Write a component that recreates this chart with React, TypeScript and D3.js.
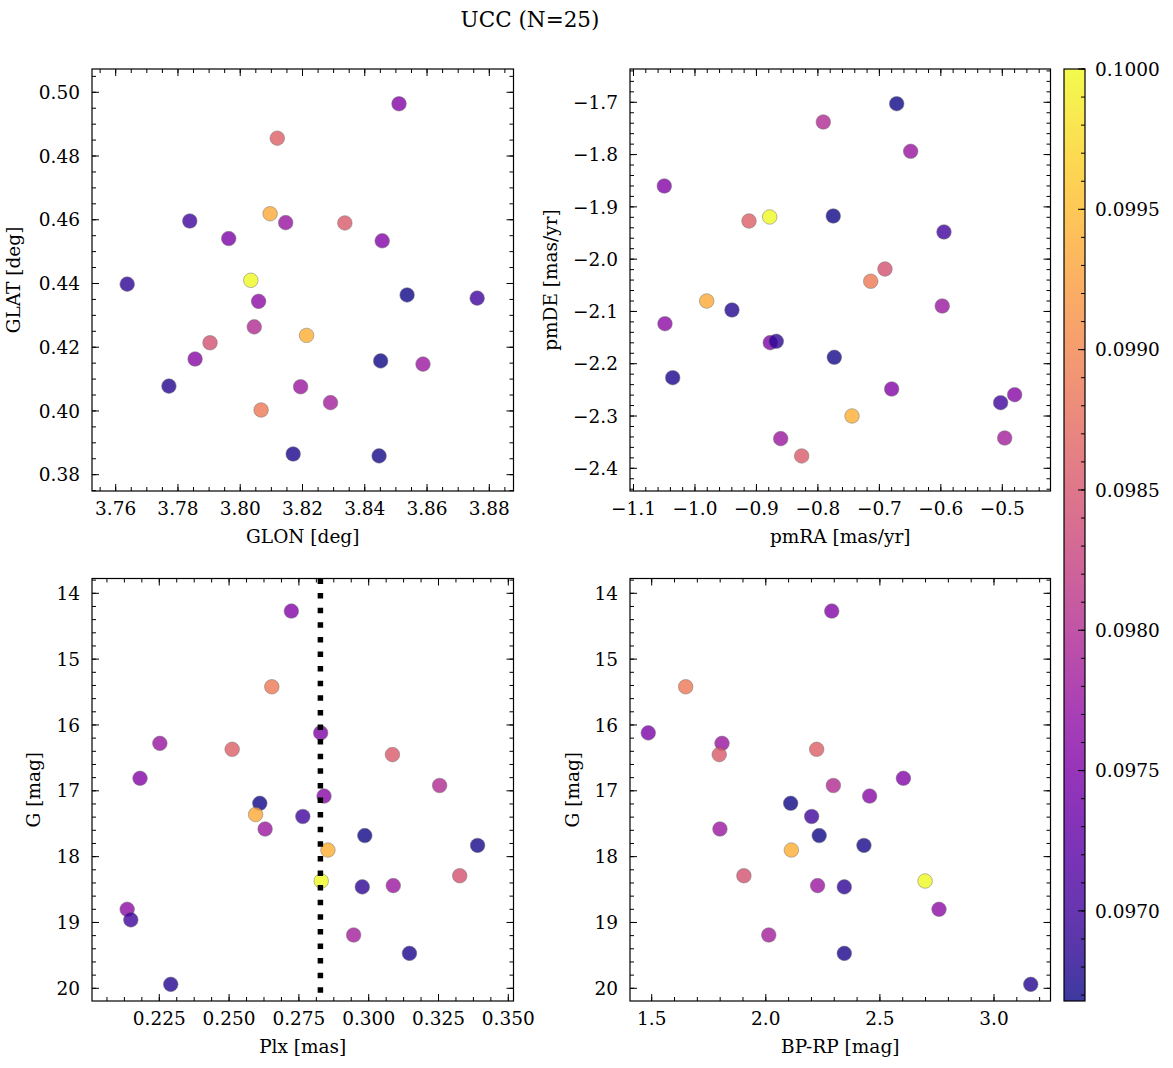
import React, { useEffect, useRef } from 'react';
import * as d3 from 'd3';

// 25 members, same order in every array
const glon = [3.8510, 3.8067, 3.7963, 3.8146, 3.8119, 3.8336, 3.8456, 3.8045, 3.7855, 3.8536, 3.8096, 3.7838, 3.8587, 3.8451, 3.8446, 3.8213, 3.8034, 3.7903, 3.7637, 3.8194, 3.8059, 3.8761, 3.8290, 3.8170, 3.7771];
const glat = [0.4964, 0.4003, 0.4541, 0.4591, 0.4856, 0.4590, 0.4534, 0.4264, 0.4163, 0.4364, 0.4619, 0.4596, 0.4147, 0.4157, 0.3859, 0.4237, 0.4410, 0.4214, 0.4398, 0.4076, 0.4344, 0.4354, 0.4026, 0.3865, 0.4078];
const pmra = [-1.0499, -0.7141, -0.8775, -0.6491, -0.9121, -0.8264, -0.6800, -0.7912, -0.4799, -0.6718, -0.9809, -0.5949, -0.5977, -0.7750, -0.7733, -0.7445, -0.8784, -0.6909, -0.8677, -0.8605, -1.0488, -0.5027, -0.4961, -1.0362, -0.9398];
const pmde = [-1.8601, -2.0423, -2.1597, -1.7937, -1.9270, -2.3764, -2.2483, -1.7377, -2.2592, -1.7027, -2.0800, -1.9480, -2.0896, -1.9174, -2.1877, -2.2999, -1.9193, -2.0188, -2.1571, -2.3433, -2.1234, -2.2745, -2.3420, -2.2267, -2.0972];
const plx = [0.2723, 0.2653, 0.2828, 0.2252, 0.2511, 0.3085, 0.2181, 0.3254, 0.2840, 0.2610, 0.2595, 0.2764, 0.2629, 0.2986, 0.3390, 0.2854, 0.2830, 0.3326, 0.2977, 0.3088, 0.2135, 0.2148, 0.2946, 0.3146, 0.2291];
const gmag = [14.27, 15.42, 16.12, 16.28, 16.37, 16.45, 16.81, 16.92, 17.08, 17.19, 17.36, 17.39, 17.58, 17.68, 17.83, 17.90, 18.37, 18.29, 18.46, 18.44, 18.80, 18.96, 19.19, 19.47, 19.94];
const bprp: (number | null)[] = [2.289, 1.649, 1.485, 1.808, 2.223, 1.796, 2.603, 2.296, 2.455, 2.109, null, 2.201, 1.799, 2.234, 2.430, 2.112, 2.698, 1.904, 2.344, 2.227, 2.759, null, 2.013, 2.344, 3.161];
const probs = [0.09755, 0.09888, 0.09752, 0.09775, 0.09860, 0.09855, 0.09757, 0.09800, 0.09760, 0.09670, 0.09935, 0.09700, 0.09778, 0.09670, 0.09672, 0.09940, 0.10000, 0.09845, 0.09685, 0.09778, 0.09765, 0.09700, 0.09785, 0.09675, 0.09680];

const plxMedian = 0.2827;

// axis ticks
const glonTicks = [3.76, 3.78, 3.80, 3.82, 3.84, 3.86, 3.88];
const glatTicks = [0.38, 0.40, 0.42, 0.44, 0.46, 0.48, 0.50];
const pmraTicks = [-1.1, -1.0, -0.9, -0.8, -0.7, -0.6, -0.5];
const pmdeTicks = [-2.4, -2.3, -2.2, -2.1, -2.0, -1.9, -1.8, -1.7];
const plxTicks = [0.225, 0.250, 0.275, 0.300, 0.325, 0.350];
const gTicks = [14, 15, 16, 17, 18, 19, 20];
const bprpTicks = [1.5, 2.0, 2.5, 3.0];
const cbarTicks = [0.0970, 0.0975, 0.0980, 0.0985, 0.0990, 0.0995, 0.1000];

const FONT = '"DejaVu Serif", serif';
const FS = 18.5;

const minorTicks = (dom: number[], step: number) => {
  const lo = Math.min(dom[0], dom[1]);
  const hi = Math.max(dom[0], dom[1]);
  const out: number[] = [];
  for (let k = Math.ceil(lo / step - 1e-9); k * step <= hi + 1e-12; k++) out.push(k * step);
  return out;
};

const App: React.FC = () => {
  const svgRef = useRef<SVGSVGElement>(null);

  useEffect(() => {
    if (!svgRef.current) return;
    const svg = d3.select(svgRef.current);
    svg.selectAll('*').remove();

    const vmin = 0.096679;
    const vmax = 0.1;
    const color = d3.scaleSequential(d3.interpolatePlasma).domain([vmin, vmax]);

    const panels = [
      {
        xs: glon, ys: glat, box: [92, 69, 513.5, 491],
        xDom: [3.75239, 3.88777], yDom: [0.37488, 0.50731],
        xTicks: glonTicks, yTicks: glatTicks, xMinor: 0.005, yMinor: 0.005,
        xFmt: '.2f', yFmt: '.2f', xLabel: 'GLON [deg]', yLabel: 'GLAT [deg]', yLabelX: 20
      },
      {
        xs: pmra, ys: pmde, box: [630, 69, 1050.5, 491],
        xDom: [-1.10569, -0.42159], yDom: [-2.44341, -1.63632],
        xTicks: pmraTicks, yTicks: pmdeTicks, xMinor: 0.02, yMinor: 0.02,
        xFmt: '.1f', yFmt: '.1f', xLabel: 'pmRA [mas/yr]', yLabel: 'pmDE [mas/yr]', yLabelX: 557
      },
      {
        xs: plx, ys: gmag, box: [92, 578.5, 513.5, 1001],
        xDom: [0.20090, 0.35186], yDom: [20.1929, 13.7752],
        xTicks: plxTicks, yTicks: gTicks, xMinor: 0.00625, yMinor: 0.2,
        xFmt: '.3f', yFmt: 'd', xLabel: 'Plx [mas]', yLabel: 'G [mag]', yLabelX: 39.5
      },
      {
        xs: bprp, ys: gmag, box: [630, 578.5, 1050.5, 1001],
        xDom: [1.40491, 3.24759], yDom: [20.1929, 13.7752],
        xTicks: bprpTicks, yTicks: gTicks, xMinor: 0.1, yMinor: 0.2,
        xFmt: '.1f', yFmt: 'd', xLabel: 'BP-RP [mag]', yLabel: 'G [mag]', yLabelX: 579
      }
    ];

    // Title
    svg.append('text')
      .attr('x', 530)
      .attr('y', 27)
      .attr('text-anchor', 'middle')
      .style('font-family', FONT)
      .style('font-size', '21.5px')
      .style('fill', '#000')
      .text('UCC (N=25)');

    panels.forEach((p, pi) => {
      const [x0, y0, x1, y1] = p.box;
      const x = d3.scaleLinear().domain(p.xDom).range([x0, x1]);
      const y = d3.scaleLinear().domain(p.yDom).range([y1, y0]);
      const g = svg.append('g');

      const clipId = `clip-${pi}`;
      g.append('clipPath').attr('id', clipId)
        .append('rect').attr('x', x0).attr('y', y0).attr('width', x1 - x0).attr('height', y1 - y0);

      // Points
      const idx = d3.range(probs.length).filter(i => p.xs[i] != null && p.ys[i] != null);
      g.append('g').attr('clip-path', `url(#${clipId})`)
        .selectAll('circle')
        .data(idx)
        .enter().append('circle')
        .attr('cx', i => x(p.xs[i] as number))
        .attr('cy', i => y(p.ys[i] as number))
        .attr('r', 7.3)
        .attr('fill', i => color(probs[i]))
        .attr('stroke', '#555')
        .attr('stroke-width', 0.5)
        .attr('opacity', 0.8);

      // Median parallax line
      if (pi === 2) {
        g.append('line')
          .attr('x1', x(plxMedian)).attr('x2', x(plxMedian))
          .attr('y1', y0).attr('y2', y1)
          .attr('stroke', '#000')
          .attr('stroke-width', 5.5)
          .attr('stroke-dasharray', '5.5 9.1');
      }

      // Frame
      g.append('rect')
        .attr('x', x0).attr('y', y0)
        .attr('width', x1 - x0).attr('height', y1 - y0)
        .attr('fill', 'none')
        .attr('stroke', '#000')
        .attr('stroke-width', 1.2);

      const tickG = g.append('g').attr('stroke', '#000').attr('stroke-width', 1);
      const drawX = (vals: number[], len: number) => {
        vals.forEach(v => {
          const px = x(v);
          tickG.append('line').attr('x1', px).attr('x2', px).attr('y1', y1).attr('y2', y1 - len);
          tickG.append('line').attr('x1', px).attr('x2', px).attr('y1', y0).attr('y2', y0 + len);
        });
      };
      const drawY = (vals: number[], len: number) => {
        vals.forEach(v => {
          const py = y(v);
          tickG.append('line').attr('x1', x0).attr('x2', x0 + len).attr('y1', py).attr('y2', py);
          tickG.append('line').attr('x1', x1).attr('x2', x1 - len).attr('y1', py).attr('y2', py);
        });
      };
      drawX(minorTicks(p.xDom, p.xMinor), 4);
      drawY(minorTicks(p.yDom, p.yMinor), 4);
      drawX(p.xTicks, 7);
      drawY(p.yTicks, 7);

      const fx = d3.format(p.xFmt);
      const fy = d3.format(p.yFmt);
      g.append('g').selectAll('text')
        .data(p.xTicks)
        .enter().append('text')
        .attr('x', d => x(d))
        .attr('y', y1 + 24)
        .attr('text-anchor', 'middle')
        .style('font-family', FONT)
        .style('font-size', `${FS}px`)
        .text(d => fx(d));

      g.append('g').selectAll('text')
        .data(p.yTicks)
        .enter().append('text')
        .attr('x', x0 - 12)
        .attr('y', d => y(d))
        .attr('dy', '0.36em')
        .attr('text-anchor', 'end')
        .style('font-family', FONT)
        .style('font-size', `${FS}px`)
        .text(d => fy(d));

      // Axis labels
      g.append('text')
        .attr('x', (x0 + x1) / 2)
        .attr('y', y1 + 52)
        .attr('text-anchor', 'middle')
        .style('font-family', FONT)
        .style('font-size', `${FS}px`)
        .text(p.xLabel);

      g.append('text')
        .attr('transform', `translate(${p.yLabelX},${(y0 + y1) / 2}) rotate(-90)`)
        .attr('text-anchor', 'middle')
        .style('font-family', FONT)
        .style('font-size', `${FS}px`)
        .text(p.yLabel);
    });

    // Colorbar
    const cb = { x0: 1064, x1: 1085, y0: 69, y1: 1001 };
    const cy = d3.scaleLinear().domain([vmin, vmax]).range([cb.y1, cb.y0]);
    const defs = svg.append('defs');
    const grad = defs.append('linearGradient')
      .attr('id', 'cbar-grad')
      .attr('x1', 0).attr('y1', 1).attr('x2', 0).attr('y2', 0);
    d3.range(0, 1.0001, 0.05).forEach(t => {
      grad.append('stop')
        .attr('offset', `${t * 100}%`)
        .attr('stop-color', d3.interpolatePlasma(t));
    });
    svg.append('rect')
      .attr('x', cb.x0).attr('y', cb.y0)
      .attr('width', cb.x1 - cb.x0).attr('height', cb.y1 - cb.y0)
      .attr('fill', 'url(#cbar-grad)')
      .attr('opacity', 0.8);
    svg.append('rect')
      .attr('x', cb.x0).attr('y', cb.y0)
      .attr('width', cb.x1 - cb.x0).attr('height', cb.y1 - cb.y0)
      .attr('fill', 'none')
      .attr('stroke', '#000')
      .attr('stroke-width', 1.2);

    const cbTicks = svg.append('g').attr('stroke', '#000').attr('stroke-width', 1);
    minorTicks([vmin, vmax], 0.0001).forEach(v => {
      cbTicks.append('line').attr('x1', cb.x1).attr('x2', cb.x1 - 4).attr('y1', cy(v)).attr('y2', cy(v));
    });
    cbarTicks.forEach(v => {
      cbTicks.append('line').attr('x1', cb.x1).attr('x2', cb.x1 - 7).attr('y1', cy(v)).attr('y2', cy(v));
    });
    svg.append('g').selectAll('text')
      .data(cbarTicks)
      .enter().append('text')
      .attr('x', cb.x1 + 10)
      .attr('y', d => cy(d))
      .attr('dy', '0.36em')
      .style('font-family', FONT)
      .style('font-size', `${FS}px`)
      .text(d => d3.format('.4f')(d));
  }, []);

  return (
    <svg
      ref={svgRef}
      width={1173}
      height={1068}
      style={{ position: 'absolute', left: 0, top: 0, background: '#fff' }}
    />
  );
};

export default App;
